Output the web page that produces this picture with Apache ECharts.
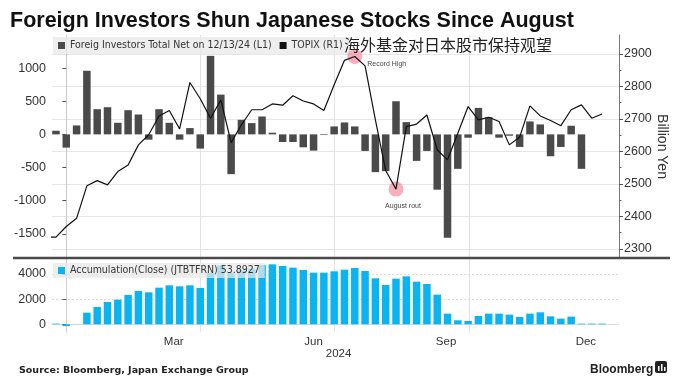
<!DOCTYPE html>
<html><head><meta charset="utf-8">
<script src="https://cdn.jsdelivr.net/npm/echarts@6/dist/echarts.min.js"></script>
<style>html,body{margin:0;padding:0;background:#fff}#c{width:692px;height:389px}</style>
</head><body><div id="c"></div>
<script>
// ---- data (weekly) ----
const weeks = ['2023-12-18','2023-12-25','2024-01-01','2024-01-08','2024-01-15','2024-01-22','2024-01-29',
'2024-02-05','2024-02-12','2024-02-19','2024-02-26','2024-03-04','2024-03-11','2024-03-18','2024-03-25',
'2024-04-01','2024-04-08','2024-04-15','2024-04-22','2024-04-29','2024-05-06','2024-05-13','2024-05-20','2024-05-27',
'2024-06-03','2024-06-10','2024-06-17','2024-06-24','2024-07-01','2024-07-08','2024-07-15','2024-07-22','2024-07-29',
'2024-08-05','2024-08-12','2024-08-19','2024-08-26','2024-09-02','2024-09-09','2024-09-16','2024-09-23','2024-09-30',
'2024-10-07','2024-10-14','2024-10-21','2024-10-28','2024-11-04','2024-11-11','2024-11-18','2024-11-25',
'2024-12-02','2024-12-09','2024-12-16','2024-12-23','2024-12-30'];
// Foreign investors weekly net (billion yen), left axis
const flowNet = [null,55,-200,135,960,380,410,175,365,300,-80,380,175,-80,95,-215,1185,600,-600,220,170,270,25,
-115,-115,-195,-245,-10,120,180,120,-250,-570,-555,500,185,-400,-250,-835,-1560,-520,-50,400,260,-50,-20,-190,
195,150,-330,-190,130,-520,null,null];
// TOPIX, right axis
const topix = [2336,2336,2369,2394,2494,2510,2497,2538,2558,2620,2651,2709,2726,2669,2812,2762,2702,2758,2627,2682,
2728,2728,2746,2742,2771,2755,2746,2726,2805,2880,2892,2863,2697,2541,2484,2676,2684,2712,2605,2574,2656,2738,
2697,2705,2692,2620,2644,2740,2709,2695,2679,2728,2743,2702,2715];
// Accumulation (close)
const accumulation = [null,55,-145,-10,927,1377,1775,1960,2331,2649,2543,2914,3099,3020,3099,2887,4076,4678,4071,
4290,4424,4715,4768,4636,4503,4318,4106,4106,4212,4344,4477,4238,3656,3126,3629,3815,3391,3205,2358,848,318,265,
662,848,848,768,583,848,954,636,450,609,54,54,54];
const annotations = [{week:'2024-07-15', text:'Record High'},{week:'2024-08-12', text:'August rout'}];
const quarterLines = ['2024-01-01','2024-04-01','2024-07-01','2024-10-01'];
const monthLabelDates = ['2024-03-14','2024-06-17','2024-09-15','2024-12-19'];
const monthLabels = ['Mar','Jun','Sep','Dec'];
const yearLabelDate = '2024-07-04';
const yearLabel = '2024';
const leftTicks = [-1500,-1000,-500,0,500,1000];
const rightTicks = [2300,2400,2500,2600,2700,2800,2900];
const rightMinor = [2350,2450,2550,2650,2750,2850];
const accTicks = [0,2000,4000];

// dates -> day number since 2024-01-01
const DAY = 864e5;
const ts = s => { const [y,m,d] = s.split('-').map(Number); return Date.UTC(y, m-1, d); };
const day = s => Math.round((ts(s) - ts('2024-01-01'))/DAY);
const xMin = -9.7, xMax = 375.5;

const NARROW = "'Liberation Sans Narrow','DejaVu Sans Condensed',sans-serif";
const SANS = "'Liberation Sans',Arial,sans-serif";

const chart = echarts.init(document.getElementById('c'), null, {renderer:'canvas'});
const axisText = {color:'#333', fontSize:12.5, fontFamily:SANS, formatter:v=>String(v)};
const monthDays = monthLabelDates.map(day);

chart.setOption({
  animation:false,
  backgroundColor:'#fff',
  title:[
    {text:'Foreign Investors Shun Japanese Stocks Since August', left:5, top:5,
     textStyle:{fontSize:21.5, fontWeight:'bold', color:'#111', fontFamily:SANS}},
    {text:'海外基金对日本股市保持观望', left:339, top:32,
     textStyle:{fontSize:16, fontWeight:'normal', color:'#222', fontFamily:"'Noto Sans CJK SC',sans-serif"}},
    {text:'Source: Bloomberg, Japan Exchange Group', left:14, top:361,
     textStyle:{fontSize:9.5, fontWeight:'bold', color:'#222', fontFamily:"'DejaVu Sans',sans-serif"}},
    {text:'Bloomberg', left:585, top:359,
     textStyle:{fontSize:12, fontWeight:'bold', color:'#222', fontFamily:SANS}}
  ],
  legend:[
    {data:['Foreig Investors Total Net on 12/13/24 (L1)','TOPIX (R1)'], left:53, top:37, icon:'rect',
     itemWidth:7, itemHeight:7, itemGap:8, padding:[3,8,3,5], backgroundColor:'rgba(232,232,232,0.75)',
     textStyle:{fontSize:10.5, color:'#333', fontFamily:NARROW}},
    {data:['Accumulation(Close) (JTBTFRN) 53.8927'], left:53, top:263, icon:'rect',
     itemWidth:7, itemHeight:7, padding:[2,5,2,5], backgroundColor:'rgba(232,232,232,0.75)',
     textStyle:{fontSize:10.5, color:'#333', fontFamily:NARROW}}
  ],
  grid:[
    {left:52, right:73, top:35, height:223},
    {left:52, right:73, top:259, height:73}
  ],
  xAxis:[
    {type:'value', gridIndex:0, min:xMin, max:xMax, position:'bottom',
     axisLine:{show:false}, axisLabel:{show:false},
     axisTick:{show:false, customValues:quarterLines.map(day)},
     splitLine:{show:true, lineStyle:{color:'#e2e2e2', width:1}}},
    {type:'value', gridIndex:1, min:xMin, max:xMax, position:'bottom',
     axisLine:{show:true, lineStyle:{color:'#dddddd'}},
     axisTick:{show:false, customValues:quarterLines.map(day)},
     splitLine:{show:true, lineStyle:{color:'#e2e2e2', width:1}},
     axisLabel:{customValues:monthDays, margin:4, color:'#333', fontSize:11.5, fontFamily:SANS,
       formatter:(v)=>{ const i = monthDays.indexOf(v); return i>=0 ? monthLabels[i] : ''; }}},
    {type:'value', gridIndex:1, min:xMin, max:xMax, position:'bottom', offset:12,
     axisLine:{show:false}, axisTick:{show:false}, splitLine:{show:false},
     axisLabel:{customValues:[day(yearLabelDate)], margin:4, color:'#333', fontSize:11.5, fontFamily:SANS,
       formatter:()=>yearLabel}}
  ],
  yAxis:[
    {type:'value', gridIndex:0, position:'left', min:-1866, max:1500,
     axisLine:{show:true, lineStyle:{color:'#c8c8c8'}},
     axisTick:{show:true, length:4, customValues:leftTicks, lineStyle:{color:'#555'}},
     axisLabel:Object.assign({customValues:leftTicks, margin:6}, axisText),
     splitLine:{show:false}},
    {type:'value', gridIndex:0, position:'right', min:2272, max:2958,
     name:'Billion Yen', nameLocation:'middle', nameRotate:-90, nameGap:36, nameMoveOverlap:false,
     nameTextStyle:{fontSize:14, color:'#333', fontFamily:SANS},
     axisLine:{show:true, lineStyle:{color:'#777'}},
     axisTick:{show:true, length:4, customValues:rightTicks, lineStyle:{color:'#555'}},
     axisLabel:Object.assign({customValues:rightTicks, margin:5}, axisText),
     splitLine:{show:true, lineStyle:{color:'#e6e6e6'}}},
    {type:'value', gridIndex:0, position:'right', min:2272, max:2958,
     axisLine:{show:false}, axisLabel:{show:false}, splitLine:{show:false},
     axisTick:{show:true, length:2.5, customValues:rightMinor, lineStyle:{color:'#666'}}},
    {type:'value', gridIndex:1, position:'left', min:-612, max:5192,
     axisLine:{show:true, lineStyle:{color:'#c8c8c8'}},
     axisTick:{show:true, length:4, customValues:accTicks, lineStyle:{color:'#555'}},
     axisLabel:Object.assign({customValues:accTicks, margin:6}, axisText),
     splitLine:{show:true, lineStyle:{color:'#dcdcdc', type:[2,2]}}},
    {type:'value', gridIndex:1, position:'right', min:-612, max:5192,
     axisLine:{show:true, lineStyle:{color:'#cfcfcf'}}, axisLabel:{show:false}, axisTick:{show:false},
     splitLine:{show:false}}
  ],
  series:[
    {name:'Foreig Investors Total Net on 12/13/24 (L1)', type:'bar', xAxisIndex:0, yAxisIndex:0,
     barWidth:7.5, itemStyle:{color:'#4a4a4a'},
     data:weeks.map((w,i)=>[day(w), flowNet[i]])},
    {name:'TOPIX (R1)', type:'line', xAxisIndex:0, yAxisIndex:1, symbol:'none', z:5,
     lineStyle:{color:'#111', width:1.2}, itemStyle:{color:'#111'},
     data:weeks.map((w,i)=>[day(w), topix[i]]),
     markPoint:{symbol:'circle', symbolSize:15, silent:true,
       itemStyle:{color:'rgba(240,110,135,0.55)'},
       data:annotations.map((a,k)=>({coord:[day(a.week), topix[weeks.indexOf(a.week)]],
         label:{show:true, formatter:a.text, color:'#444', fontSize:7, fontFamily:SANS,
           position: k===0 ? 'right' : 'bottom', offset: k===0 ? [0,8] : [7,1]}}))}},
    {name:'Accumulation(Close) (JTBTFRN) 53.8927', type:'bar', xAxisIndex:1, yAxisIndex:3,
     barWidth:7.5, itemStyle:{color:'#09b4f0'},
     data:weeks.map((w,i)=>[day(w), accumulation[i]])}
  ],
  graphic:[
    {type:'line', shape:{x1:13, y1:258, x2:670, y2:258}, style:{stroke:'#4a4a4a', lineWidth:2.5}, z:100},
    {type:'rect', shape:{x:655, y:361, width:12, height:12, r:2}, style:{fill:'#222'}},
    {type:'rect', shape:{x:658, y:366, width:1.5, height:5}, style:{fill:'#fff'}},
    {type:'rect', shape:{x:661, y:364, width:1.5, height:7}, style:{fill:'#fff'}},
    {type:'rect', shape:{x:664, y:367, width:1.5, height:4}, style:{fill:'#fff'}}
  ]
});
</script></body></html>
